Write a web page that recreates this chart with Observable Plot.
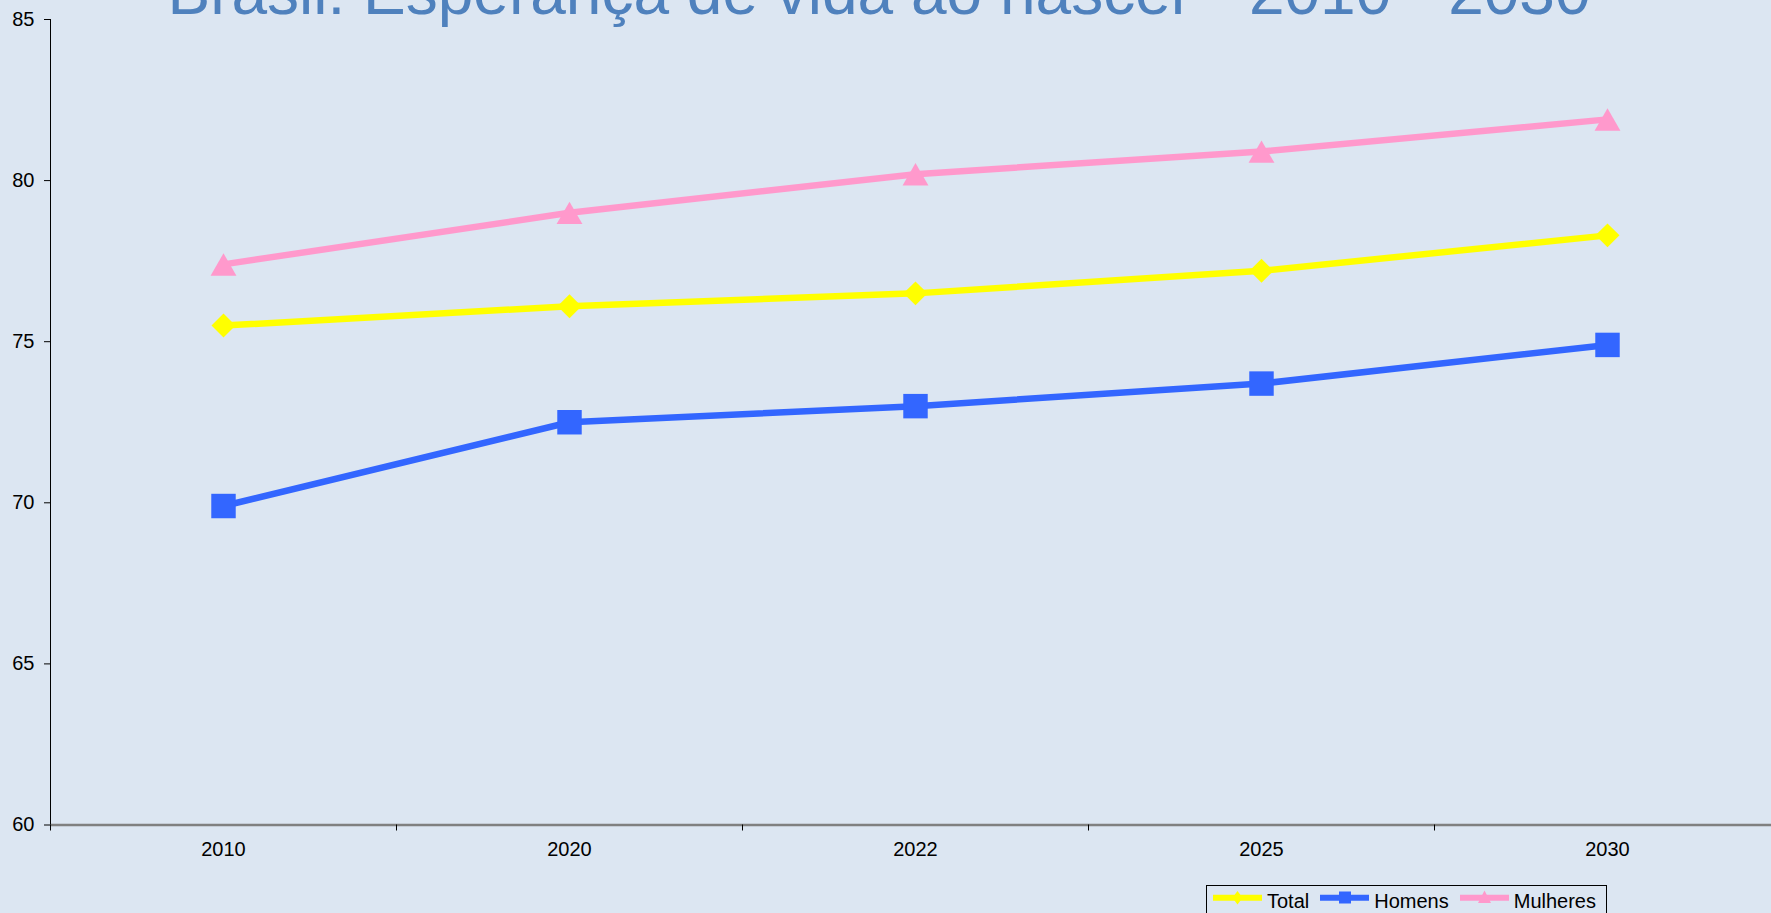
<!DOCTYPE html>
<html><head><meta charset="utf-8">
<script src="https://cdn.jsdelivr.net/npm/d3@7"></script>
<script src="https://cdn.jsdelivr.net/npm/@observablehq/plot@0.6"></script>
<style>
html,body{margin:0;padding:0;background:#DCE6F2;overflow:hidden}
#wrap{position:relative;width:1771px;height:913px;overflow:hidden;background:#DCE6F2;font-family:"Liberation Sans",Arial,sans-serif}
#title{position:absolute;top:-40px;left:879px;transform:translateX(-50%);white-space:nowrap;font-size:64px;line-height:64px;color:#4F81BD}
#chart{position:absolute;left:0;top:0}
#legend{position:absolute;left:1206px;top:885px;width:401px;height:40px;border:1px solid #000;box-sizing:border-box;display:flex;align-items:flex-start;padding:4px 0 0 6px;font-size:20px;line-height:22px;color:#000}
#legend .item{display:flex;align-items:flex-start;margin-right:11px}
#legend svg{margin-right:5px;margin-top:0}
</style></head>
<body><div id="wrap">
<div id="chart"></div>
<div id="title">Brasil: Esperança de vida ao nascer - 2010 - 2030</div>
<div id="legend"></div>
</div>
<script>
const years = ["2010", "2020", "2022", "2025", "2030"];
const total = [75.5, 76.1, 76.5, 77.2, 78.3];
const homens = [69.9, 72.5, 73.0, 73.7, 74.9];
const mulheres = [77.4, 79.0, 80.2, 80.9, 81.9];
const seriesNames = ["Total", "Homens", "Mulheres"];
const seriesColors = ["#FFFF00", "#3366FF", "#FF99CC"];
const yTicks = [60, 65, 70, 75, 80, 85];

const values = [total, homens, mulheres];
const rows = [];
seriesNames.forEach((s, k) => years.forEach((y, i) => rows.push({series: s, year: y, value: values[k][i]})));

const W = 1771, H = 913, mL = 50, mR = -9, mT = 19, mB = 88.5;
const half = (W - mR - mL) / years.length / 2;
const font = '"Liberation Sans", Arial, sans-serif';

const chart = Plot.plot({
  width: W, height: H,
  marginLeft: mL, marginRight: mR, marginTop: mT, marginBottom: mB,
  style: {background: "transparent", fontFamily: font, color: "#000", overflow: "hidden"},
  x: {type: "point", domain: years, padding: 0.5, axis: null},
  y: {domain: [60, 85], axis: null},
  color: {domain: seriesNames, range: seriesColors},
  marks: [
    Plot.ruleY([60], {stroke: "#808080", strokeWidth: 2.5}),
    Plot.ruleX([years[0]], {dx: -half, y1: 60, y2: 85, stroke: "#000", strokeWidth: 1}),
    Plot.axisX({tickSize: 6, dx: -half, tickFormat: () => "", stroke: "#000", label: null}),
    Plot.axisX({tickSize: 0, tickPadding: 17, fontSize: 20, label: null, fill: "#000"}),
    Plot.axisY({ticks: yTicks, tickSize: 6, tickPadding: 10, fontSize: 20, label: null, stroke: "#000", fill: "#000"}),
    Plot.line(rows, {x: "year", y: "value", z: "series", stroke: "series", strokeWidth: 6.5}),
    Plot.dot(rows.filter(d => d.series === "Total"), {x: "year", y: "value", symbol: "diamond2", r: 10.8, fill: seriesColors[0], stroke: null}),
    Plot.dot(rows.filter(d => d.series === "Homens"), {x: "year", y: "value", symbol: "square", r: 13.8, fill: seriesColors[1], stroke: null}),
    Plot.dot(rows.filter(d => d.series === "Mulheres"), {x: "year", y: "value", symbol: "triangle", r: 9.6, dy: 3.8, fill: seriesColors[2], stroke: null})
  ]
});
document.getElementById("chart").appendChild(chart);

const legend = document.getElementById("legend");
const shapes = [
  c => `<path d="M24.5 1 L29.5 7.7 L24.5 14.5 L19.5 7.7 Z" fill="${c}"/>`,
  c => `<rect x="19" y="1.5" width="12" height="12" fill="${c}"/>`,
  c => `<path d="M24.5 0.5 L31 13 L18 13 Z" fill="${c}"/>`
];
seriesNames.forEach((s, k) => {
  const item = document.createElement("div");
  item.className = "item";
  item.innerHTML = `<svg width="49" height="17"><line x1="0" x2="49" y1="7.7" y2="7.7" stroke="${seriesColors[k]}" stroke-width="6"/>${shapes[k](seriesColors[k])}</svg><span>${s}</span>`;
  legend.appendChild(item);
});
</script>
</body></html>
